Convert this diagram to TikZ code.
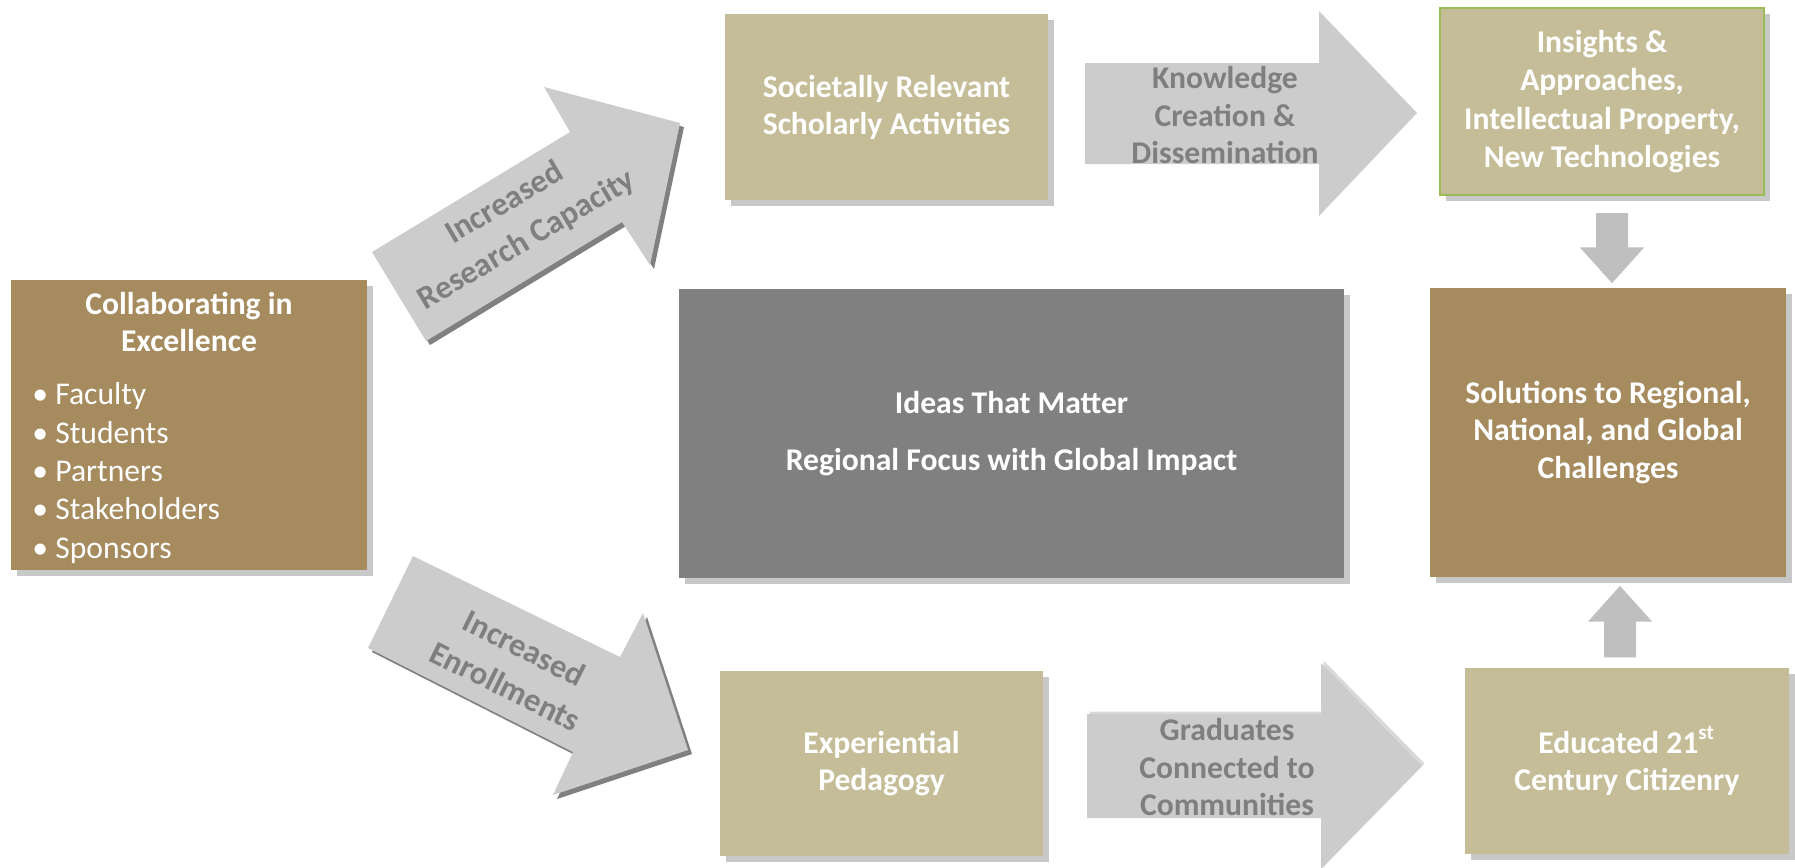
\documentclass[tikz,border=0pt]{standalone}
\usepackage{fontspec}
\setmainfont{Carlito}
\usetikzlibrary{arrows.meta,shadows}
\definecolor{tandark}{HTML}{A68B5E}
\definecolor{tanlight}{HTML}{C4BD97}
\definecolor{ideagrey}{HTML}{808080}
\definecolor{arrowgrey}{HTML}{CCCCCC}
\definecolor{labelgrey}{HTML}{7F7F7F}
\definecolor{boxshadow}{HTML}{C8C8C8}
\definecolor{conngrey}{HTML}{BFBFBF}
\definecolor{insborder}{HTML}{9BBB59}
\tikzset{
  box/.style={inner sep=0pt, drop shadow={shadow xshift=0.6mm, shadow yshift=-0.6mm, fill=boxshadow, opacity=1}},
  boxtext/.style={text=white, font=\fontsize{9}{10.6}\selectfont\bfseries, align=center},
  arrowtext/.style={text=labelgrey, font=\fontsize{9}{10.6}\selectfont\bfseries, align=center},
  slanttext/.style={text=labelgrey, font=\fontsize{9.3}{12.2}\selectfont\bfseries, align=center},
  slantarrow/.style={fill=arrowgrey, drop shadow={shadow xshift=0.4mm, shadow yshift=-0.4mm, fill=ideagrey, opacity=1}},
  conn/.style={draw=conngrey, line width=3.2mm, -{Triangle[width=6.2mm,length=3.6mm]}}
}
\begin{document}
\begin{tikzpicture}[x=0.1mm, y=-0.1mm]
                \useasboundingbox (0,0) rectangle (1795,867);

                \fill[slantarrow] (372,252) -- (570,132) -- (544,87) -- (680,123) -- (650,265) -- (622,222) -- (426,341) -- cycle;
                \fill[slantarrow] (413,556) -- (620,657) -- (643,613) -- (688,750) -- (553,795) -- (573,752) -- (368,648) -- cycle;
                \fill[arrowgrey] (1085,63) -- (1319,63) -- (1319,11) -- (1417,113) -- (1319,216) -- (1319,164) -- (1085,164) -- cycle;
                \fill[arrowgrey, drop shadow={shadow xshift=0.25mm, shadow yshift=0.25mm, fill=ideagrey, opacity=0.3}] (1087,714) -- (1321,714) -- (1321,663) -- (1422,766) -- (1321,869) -- (1321,818) -- (1087,818) -- cycle;

                \node[slanttext, rotate=30.5] (restext) at (516,222) {Increased\\Research Capacity};
                \node[slanttext, rotate=-26.5] (enrtext) at (515,667) {Increased\\Enrollments};
                \node[arrowtext] (knowtext) at (1225,115) {Knowledge\\Creation \&\\Dissemination};
                \node[arrowtext] (gradtext) at (1227,767) {Graduates\\Connected to\\Communities};

                \node[box, fill=tandark, minimum width=35.6mm, minimum height=29mm] (collab) at (189,425) {};
                \node[boxtext] (collabtitle) at (189,322) {Collaborating in\\Excellence};
                \node[boxtext, font=\fontsize{9}{10.9}\selectfont, align=left, anchor=west] (collablist) at (20,473)
                    {\textbullet\ Faculty\\\textbullet\ Students\\\textbullet\ Partners\\\textbullet\ Stakeholders\\\textbullet\ Sponsors};

                \node[box, boxtext, fill=tanlight, minimum width=32.3mm, minimum height=18.6mm] (soc) at (886.5,107) {Societally Relevant\\Scholarly Activities};
                \node[box, boxtext, font=\fontsize{9}{10.9}\selectfont\bfseries, fill=tanlight, draw=insborder, line width=0.2mm, minimum width=32.4mm, minimum height=18.7mm] (ins) at (1602,101.5) {Insights \&\\Approaches,\\Intellectual Property,\\New Technologies};
                \node[box, boxtext, fill=ideagrey, minimum width=66.5mm, minimum height=28.9mm] (ideas) at (1011.5,433.5) {Ideas That Matter\\[5.5pt]Regional Focus with Global Impact};
                \node[box, boxtext, fill=tandark, minimum width=35.6mm, minimum height=28.9mm] (sol) at (1608,432.5) {Solutions to Regional,\\National, and Global\\Challenges};
                \node[box, boxtext, fill=tanlight, minimum width=32.3mm, minimum height=18.5mm] (exp) at (881.5,763.5) {Experiential\\Pedagogy};
                \node[box, boxtext, fill=tanlight, minimum width=32.4mm, minimum height=18.6mm] (edu) at (1627,761) {Educated 21\textsuperscript{st}\\Century Citizenry};

                \draw[conn] ([xshift=1mm, yshift=-1.7mm]ins.south) -- ([xshift=0.4mm, yshift=0.4mm]sol.north);
                \draw[conn] ([xshift=-0.7mm, yshift=1mm]edu.north) -- ([xshift=1.2mm, yshift=-0.8mm]sol.south);

            \end{tikzpicture}
\end{document}
